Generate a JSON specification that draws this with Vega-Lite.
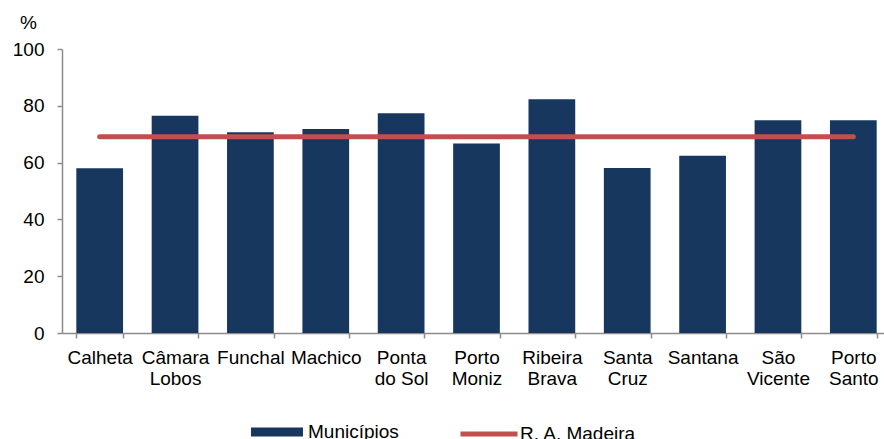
{
  "$schema": "https://vega.github.io/schema/vega-lite/v6.json",
  "autosize": {"type": "none"},
  "width": 822,
  "height": 284,
  "padding": {"left": 62, "top": 49, "right": 0, "bottom": 106},
  "background": "white",
  "config": {
    "view": {"stroke": null},
    "font": "Liberation Sans",
    "axis": {"labelFont": "Liberation Sans", "titleFont": "Liberation Sans", "labelColor": "#000000", "titleColor": "#000000", "domainColor": "#8C8C8C", "tickColor": "#8C8C8C", "domainWidth": 1.5, "tickWidth": 1.5, "grid": false},
    "legend": {"labelFont": "Liberation Sans", "labelColor": "#000000", "padding": 0}
  },
  "data": {
    "values": [
      {"municipio": "Calheta", "valor": 58.0, "madeira": 69.1},
      {"municipio": "Câmara Lobos", "valor": 76.5, "madeira": 69.1},
      {"municipio": "Funchal", "valor": 70.7, "madeira": 69.1},
      {"municipio": "Machico", "valor": 71.8, "madeira": 69.1},
      {"municipio": "Ponta do Sol", "valor": 77.4, "madeira": 69.1},
      {"municipio": "Porto Moniz", "valor": 66.7, "madeira": 69.1},
      {"municipio": "Ribeira Brava", "valor": 82.3, "madeira": 69.1},
      {"municipio": "Santa Cruz", "valor": 58.1, "madeira": 69.1},
      {"municipio": "Santana", "valor": 62.4, "madeira": 69.1},
      {"municipio": "São Vicente", "valor": 74.9, "madeira": 69.1},
      {"municipio": "Porto Santo", "valor": 74.9, "madeira": 69.1}
    ]
  },
  "encoding": {
    "x": {
      "field": "municipio",
      "type": "nominal",
      "sort": null,
      "scale": {"range": [0, 829], "paddingInner": 0.38, "paddingOuter": 0.19},
      "axis": {
        "title": null,
        "labelAngle": 0,
        "labelFontSize": 19,
        "labelPadding": 10,
        "tickSize": 5,
        "tickBand": "extent",
        "labelLineHeight": 21,
        "labelBaseline": "top",
        "labelExpr": "!isValid(datum.value) ? '' : (datum.value == 'Ponta do Sol' ? ['Ponta', 'do Sol'] : split(datum.value, ' '))"
      }
    }
  },
  "layer": [
    {
      "mark": {"type": "bar"},
      "encoding": {
        "y": {
          "field": "valor",
          "type": "quantitative",
          "scale": {"domain": [0, 100], "nice": false},
          "axis": {
            "values": [0, 20, 40, 60, 80, 100],
            "labelFontSize": 19,
            "labelPadding": 13,
            "tickSize": 5,
            "title": "%",
            "titleFontSize": 19,
            "titleFontWeight": "normal",
            "titleAngle": 0,
            "titleAlign": "center",
            "titleBaseline": "alphabetic",
            "titleX": -34,
            "titleY": -21
          }
        },
        "fill": {
          "datum": "Municípios",
          "scale": {"range": ["#17375E"]},
          "legend": {
            "title": null,
            "orient": "none",
            "legendX": 189,
            "legendY": 357,
            "symbolType": "M-1,-0.17H1V0.17H-1Z",
            "symbolSize": 2704,
            "symbolStrokeWidth": 0,
            "labelFontSize": 19,
            "labelOffset": 5
          }
        }
      }
    },
    {
      "mark": {"type": "line", "strokeWidth": 5, "strokeCap": "round"},
      "encoding": {
        "y": {"field": "madeira", "type": "quantitative"},
        "stroke": {
          "datum": "R. A. Madeira",
          "scale": {"range": ["#C0504D"]},
          "legend": {
            "title": null,
            "orient": "none",
            "legendX": 396,
            "legendY": 354,
            "symbolType": "stroke",
            "symbolSize": 3249,
            "symbolStrokeWidth": 5,
            "labelFontSize": 19,
            "labelOffset": 0
          }
        }
      }
    }
  ]
}
